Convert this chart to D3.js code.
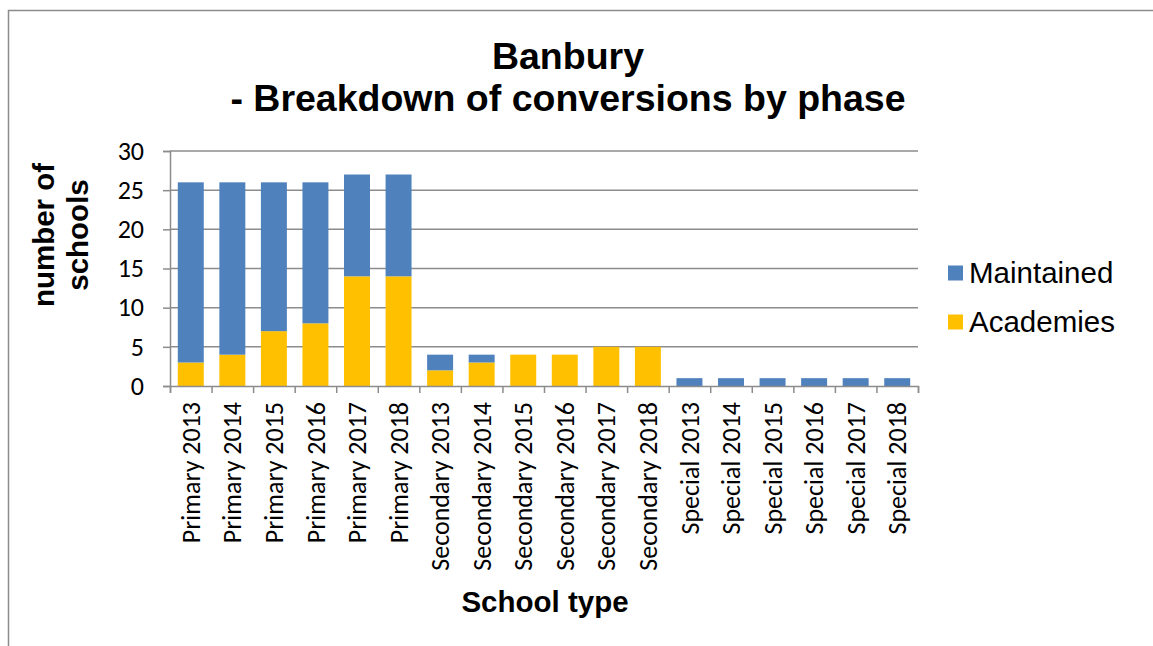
<!DOCTYPE html>
<html>
<head>
<meta charset="utf-8">
<script src="https://cdn.jsdelivr.net/npm/d3@7"></script>
<style>
  body { margin: 0; background: #fff; }
  svg { display: block; }
</style>
</head>
<body>
<div id="chart"></div>
<script>
const categories = [
  'Primary 2013', 'Primary 2014', 'Primary 2015', 'Primary 2016', 'Primary 2017', 'Primary 2018',
  'Secondary 2013', 'Secondary 2014', 'Secondary 2015', 'Secondary 2016', 'Secondary 2017', 'Secondary 2018',
  'Special 2013', 'Special 2014', 'Special 2015', 'Special 2016', 'Special 2017', 'Special 2018'
];
const academies = [3, 4, 7, 8, 14, 14, 2, 3, 4, 4, 5, 5, 0, 0, 0, 0, 0, 0];
const maintained = [23, 22, 19, 18, 13, 13, 2, 1, 0, 0, 0, 0, 1, 1, 1, 1, 1, 1];
const yTicks = [0, 5, 10, 15, 20, 25, 30];
const seriesNames = ['Academies', 'Maintained'];
const seriesColors = { Academies: '#FFC000', Maintained: '#4F81BD' };

const width = 1153;
const height = 646;
const margin = { top: 151, right: 235, bottom: 260, left: 170 };
const tickFont = "Carlito, 'Open Sans', sans-serif";
const boldFont = "'Liberation Sans', Arial, sans-serif";

const rows = categories.map((c, i) => ({ cat: c, Academies: academies[i], Maintained: maintained[i] }));

const svg = d3.select('#chart').append('svg')
  .attr('width', width)
  .attr('height', height);

// outer frame (only top and left edges are visible in the crop)
svg.append('path')
  .attr('d', `M8.5,${height} V10.5 H${width}`)
  .attr('fill', 'none')
  .attr('stroke', '#8c8c8c')
  .attr('stroke-width', 1.5);

const x = d3.scaleBand()
  .domain(categories)
  .range([margin.left, width - margin.right])
  .paddingInner(0.375)
  .paddingOuter(0.1875);

const xEdges = d3.scaleLinear()
  .domain([0, categories.length])
  .range([margin.left, width - margin.right]);

const y = d3.scaleLinear()
  .domain([0, 30])
  .range([height - margin.bottom, margin.top]);

// gridlines
svg.append('g')
  .selectAll('line')
  .data(yTicks.filter((d) => d > 0))
  .enter()
  .append('line')
  .attr('x1', margin.left)
  .attr('x2', width - margin.right)
  .attr('y1', (d) => y(d))
  .attr('y2', (d) => y(d))
  .attr('stroke', '#8c8c8c')
  .attr('stroke-width', 1.5);

// stacked bars
const stacked = d3.stack().keys(seriesNames)(rows);

svg.append('g')
  .selectAll('g')
  .data(stacked)
  .enter()
  .append('g')
  .attr('fill', (d) => seriesColors[d.key])
  .selectAll('rect')
  .data((d) => d)
  .enter()
  .append('rect')
  .attr('x', (d) => x(d.data.cat))
  .attr('width', x.bandwidth())
  .attr('y', (d) => y(d[1]))
  .attr('height', (d) => y(d[0]) - y(d[1]));

// y axis
const yAxis = svg.append('g')
  .attr('transform', `translate(${margin.left},0)`)
  .call(d3.axisLeft(y).tickValues(yTicks).tickSize(7).tickPadding(19));
yAxis.select('.domain').attr('stroke', '#8c8c8c').attr('stroke-width', 1.5);
yAxis.selectAll('.tick line').attr('stroke', '#8c8c8c').attr('stroke-width', 1.5);
yAxis.selectAll('.tick text')
  .attr('font-family', tickFont)
  .attr('font-size', '26px')
  .attr('fill', '#000');

// x axis: ticks at category boundaries
const xAxisTicks = svg.append('g')
  .attr('transform', `translate(0,${y(0)})`)
  .call(d3.axisBottom(xEdges).tickValues(d3.range(categories.length + 1)).tickSize(7).tickFormat(''));
xAxisTicks.select('.domain').attr('stroke', '#8c8c8c').attr('stroke-width', 1.5);
xAxisTicks.selectAll('.tick line').attr('stroke', '#8c8c8c').attr('stroke-width', 1.5);

// x labels
const xLabels = svg.append('g')
  .attr('transform', `translate(0,${y(0)})`)
  .call(d3.axisBottom(x).tickSize(0).tickPadding(0));
xLabels.select('.domain').remove();
xLabels.selectAll('.tick text')
  .attr('font-family', tickFont)
  .attr('font-size', '26px')
  .attr('fill', '#000')
  .attr('text-anchor', 'end')
  .attr('transform', 'rotate(-90)')
  .attr('x', -16)
  .attr('y', 0)
  .attr('dy', '0.35em');

// title
const title = svg.append('text')
  .attr('text-anchor', 'middle')
  .attr('font-family', boldFont)
  .attr('font-weight', 'bold')
  .attr('font-size', '37.5px')
  .attr('fill', '#000');
title.append('tspan').attr('x', 568).attr('y', 69).text('Banbury');
title.append('tspan').attr('x', 568).attr('y', 111).text('- Breakdown of conversions by phase');

// y axis title
const yTitle = svg.append('text')
  .attr('transform', 'translate(0,235) rotate(-90)')
  .attr('text-anchor', 'middle')
  .attr('font-family', boldFont)
  .attr('font-weight', 'bold')
  .attr('font-size', '29.5px')
  .attr('fill', '#000');
yTitle.append('tspan').attr('x', 0).attr('y', 54).text('number of');
yTitle.append('tspan').attr('x', 0).attr('y', 88).text('schools');

// x axis title
svg.append('text')
  .attr('x', 545)
  .attr('y', 612)
  .attr('text-anchor', 'middle')
  .attr('font-family', boldFont)
  .attr('font-weight', 'bold')
  .attr('font-size', '29.5px')
  .attr('fill', '#000')
  .text('School type');

// legend
const legend = svg.append('g')
  .selectAll('g')
  .data(['Maintained', 'Academies'])
  .enter()
  .append('g')
  .attr('transform', (d, i) => `translate(948,${273 + i * 49})`);

legend.append('rect')
  .attr('x', 0)
  .attr('y', -7.5)
  .attr('width', 15)
  .attr('height', 15)
  .attr('fill', (d) => seriesColors[d]);

legend.append('text')
  .attr('x', 21)
  .attr('y', 0)
  .attr('dy', '0.35em')
  .attr('font-family', "'Liberation Sans', Arial, sans-serif")
  .attr('font-size', '29.5px')
  .attr('fill', '#000')
  .text((d) => d);
</script>
</body>
</html>
